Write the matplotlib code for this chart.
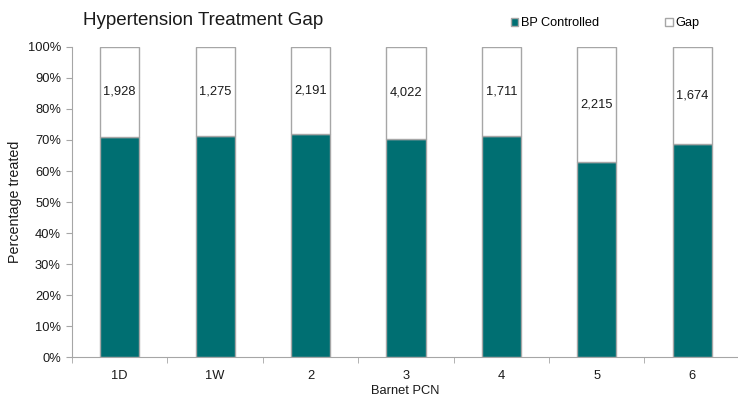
import matplotlib

matplotlib.use("Agg")
import matplotlib.pyplot as plt
from matplotlib.patches import Patch
from matplotlib.ticker import FixedLocator, PercentFormatter

plt.rcParams["font.family"] = ["Liberation Sans", "DejaVu Sans"]

pcns = ["1D", "1W", "2", "3", "4", "5", "6"]
bp_controlled = [70.9, 71.3, 71.8, 70.2, 71.3, 62.9, 68.8]  # % of treated
gap_counts = [1928, 1275, 2191, 4022, 1711, 2215, 1674]     # patients in the gap

TEAL = "#006F72"
EDGE = "#a6a6a6"
AXIS = "#a6a6a6"
INK = "#1a1a1a"

fig = plt.figure(figsize=(7.38, 3.98), dpi=100)
ax = fig.add_axes([0.0976, 0.1018, 0.9024, 0.7809])

x = list(range(len(pcns)))
gap = [100 - v for v in bp_controlled]
ax.bar(x, bp_controlled, width=0.41, color=TEAL, edgecolor=EDGE, linewidth=1, zorder=2)
ax.bar(x, gap, width=0.41, bottom=bp_controlled, color="white", edgecolor=EDGE,
       linewidth=1, zorder=2)

for xi, b, g, n in zip(x, bp_controlled, gap, gap_counts):
    ax.text(xi, b + g / 2, f"{n:,}", ha="center", va="center", fontsize=9.3, color=INK)

ax.set_xlim(-0.5, 6.48)
ax.set_ylim(0, 100)
ax.yaxis.set_major_locator(FixedLocator(range(0, 101, 10)))
ax.yaxis.set_major_formatter(PercentFormatter(decimals=0))
ax.set_xticks(x)
ax.set_xticklabels(pcns)
ax.xaxis.set_minor_locator(FixedLocator([i - 0.5 for i in range(len(pcns) + 1)]))
ax.tick_params(axis="x", which="major", length=0, pad=9, labelsize=9.3, colors=INK)
ax.tick_params(axis="x", which="minor", length=4, color=AXIS, direction="out")
ax.tick_params(axis="y", length=4, color=AXIS, labelsize=9.3, labelcolor=INK, pad=4)

for side in ("top", "right"):
    ax.spines[side].set_visible(False)
for side in ("left", "bottom"):
    ax.spines[side].set_color(AXIS)

ax.set_xlabel("Barnet PCN", fontsize=9.3, labelpad=2, color=INK)
ax.set_ylabel("Percentage treated", fontsize=10.3, labelpad=4, color=INK)

fig.text(0.112, 0.948, "Hypertension Treatment Gap", fontsize=13.5, va="center", color=INK)

handles = [Patch(facecolor=TEAL, edgecolor=EDGE, label="BP Controlled"),
           Patch(facecolor="white", edgecolor=EDGE, label="Gap")]
fig.legend(handles=handles, ncol=2, loc="center left", bbox_to_anchor=(0.692, 0.942),
           frameon=False, fontsize=9.2, handlelength=0.6, handleheight=0.6,
           handletextpad=0.2, columnspacing=5.2, borderaxespad=0, borderpad=0)

fig.savefig("out.png", dpi=100)
